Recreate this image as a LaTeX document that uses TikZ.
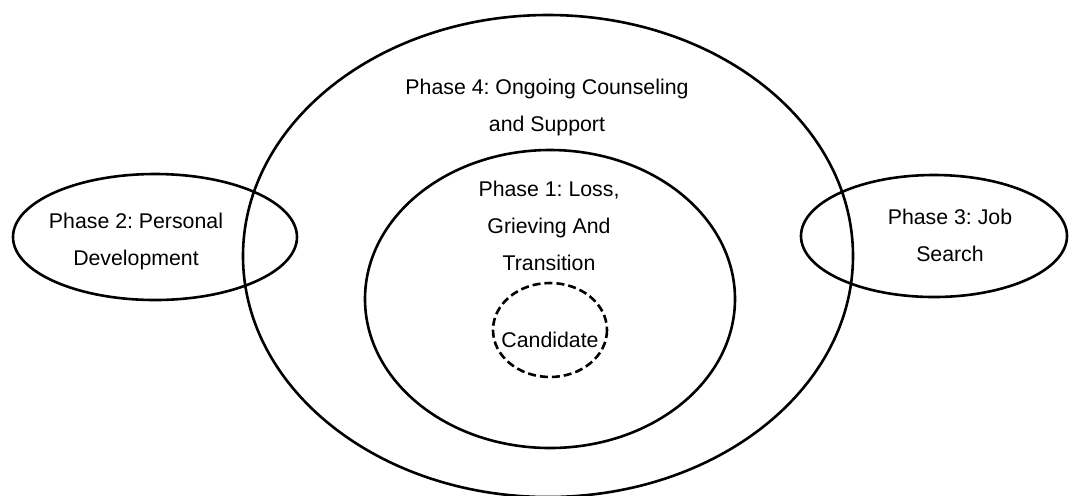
\documentclass[tikz,border=0pt]{standalone}
\usepackage{fontspec}
\setmainfont{Liberation Sans}
\frenchspacing
\begin{document}
\begin{tikzpicture}[x=0.5pt, y=-0.5pt]
            \tikzset{phase/.style = {line width=1.3pt}, candidate ring/.style = {phase, dash pattern=on 4pt off 2pt}, phase text/.style = {align=center, inner sep=0pt, font=\fontsize{10.65}{18.5}\selectfont}}
            \useasboundingbox (0, 0) rectangle (1078, 495);
            \draw[phase] (548, 256) ellipse [x radius = 305, y radius = 241];
            \draw[phase] (550, 299) ellipse [x radius = 185, y radius = 149];
            \draw[phase] (155, 237) ellipse [x radius = 142, y radius = 63];
            \draw[phase] (934, 236) ellipse [x radius = 133, y radius = 61];
            \draw[candidate ring] (550, 330) ellipse [x radius = 57, y radius = 47];
            \node[phase text] (ongoing) at (547, 107) {Phase 4: Ongoing Counseling\\and Support};
            \node[phase text] (loss) at (549, 226) {Phase 1: Loss,\\Grieving And\\Transition};
            \node[phase text] (personal) at (136, 241) {Phase 2: Personal\\Development};
            \node[phase text] (jobsearch) at (950, 235) {Phase 3: Job\\Search};
            \node[phase text] (candidate) at (550, 340) {Candidate};
        \end{tikzpicture}
\end{document}
